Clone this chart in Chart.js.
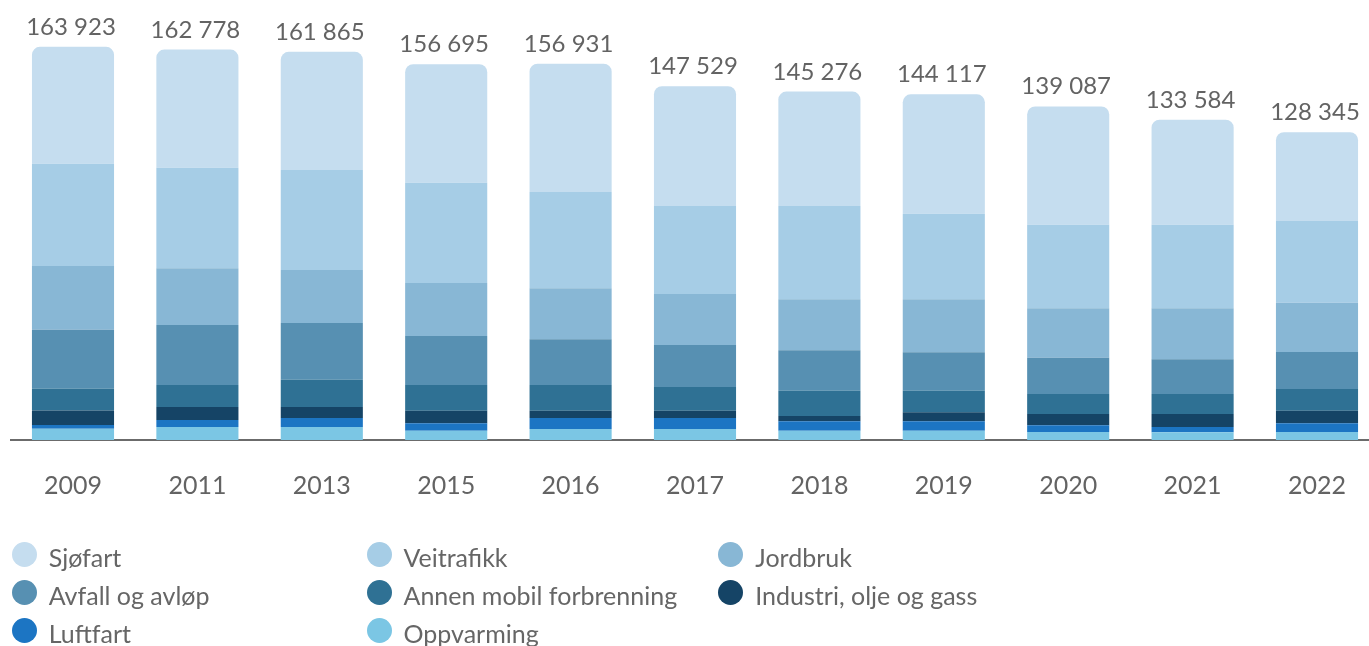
<!DOCTYPE html>
<html>
<head>
<meta charset="utf-8">
<script src="https://cdn.jsdelivr.net/npm/chart.js@4"></script>
<style>
html,body{margin:0;padding:0;overflow:hidden;background:#fff;width:1369px;height:646px;}
#wrap{position:absolute;left:0;top:0;width:1382px;height:530px;}
#legend{position:absolute;left:0;top:0;width:1369px;height:646px;pointer-events:none;font-family:Lato, sans-serif;}
.item{position:absolute;height:25px;}
.dot{position:absolute;left:0;top:0;width:25px;height:25px;border-radius:50%;}
.lbl{position:absolute;left:37px;top:3px;font-size:25px;line-height:25px;color:#666;white-space:nowrap;}
</style>
</head>
<body>
<div id="wrap"><canvas id="c"></canvas></div>
<div id="legend"></div>
<script>
const years = ['2009','2011','2013','2015','2016','2017','2018','2019','2020','2021','2022'];
const totals = [163923, 162778, 161865, 156695, 156931, 147529, 145276, 144117, 139087, 133584, 128345];

const oppvarming = [4720, 5420, 5420, 3880, 4590, 4590, 3880, 3880, 3340, 3210, 3340];
const luftfart   = [1550, 2920, 3750, 3090, 4590, 4590, 3920, 3920, 2790, 2210, 3630];
const industri   = [5980, 5420, 4590, 5250, 3040, 3040, 2210, 3750, 4710, 5420, 5250];
const annenMobil = [9070, 9170, 11380, 10720, 10720, 9880, 10550, 9010, 8340, 8340, 9050];
const avfall     = [24660, 25020, 23640, 20430, 19060, 17510, 16850, 16010, 15140, 14470, 15430];
const jordbruk   = [26620, 23640, 22100, 22100, 21270, 21270, 21270, 22100, 20600, 21270, 20560];
const veitrafikk = [42620, 41950, 41700, 41830, 40160, 36700, 38910, 35700, 34860, 34860, 34070];
const sjofart    = [48700, 49240, 49290, 49400, 53500, 49950, 47690, 49750, 49310, 43800, 37020];

const seriesNames = ['Oppvarming','Luftfart','Industri, olje og gass','Annen mobil forbrenning','Avfall og avløp','Jordbruk','Veitrafikk','Sjøfart'];
const seriesData = [oppvarming, luftfart, industri, annenMobil, avfall, jordbruk, veitrafikk, sjofart];
const seriesColors = ['#7bc6e4','#1c75c3','#154466','#2f7194','#5790b2','#88b7d5','#a6cde6','#c5ddef'];
const legendOrder = ['Sjøfart','Veitrafikk','Jordbruk','Avfall og avløp','Annen mobil forbrenning','Industri, olje og gass','Luftfart','Oppvarming'];

function fmt(n){ return String(n).replace(/\B(?=(\d{3})+(?!\d))/g, ' '); }

const totalsPlugin = {
  id: 'totals',
  afterDatasetsDraw(chart){
    const ctx = chart.ctx;
    const meta = chart.getDatasetMeta(chart.data.datasets.length - 1);
    ctx.save();
    ctx.font = '24px Lato';
    ctx.fillStyle = '#636363';
    ctx.textAlign = 'center';
    ctx.textBaseline = 'alphabetic';
    meta.data.forEach((bar, i) => {
      ctx.fillText(fmt(totals[i]), bar.x - 2, bar.y - 12);
    });
    ctx.restore();
  }
};

new Chart(document.getElementById('c'), {
  type: 'bar',
  data: {
    labels: years,
    datasets: seriesNames.map((name, i) => ({
      label: name,
      data: seriesData[i],
      backgroundColor: seriesColors[i],
      borderWidth: 0,
      borderRadius: 8,
      categoryPercentage: 1,
      barPercentage: 0.66
    }))
  },
  options: {
    responsive: true,
    maintainAspectRatio: false,
    animation: false,
    layout: { padding: { left: 10.8, right: 2.8, top: 20.3, bottom: 0 } },
    plugins: { legend: { display: false }, tooltip: { enabled: false } },
    scales: {
      x: {
        stacked: true,
        grid: { display: false, drawTicks: false },
        border: { display: true, color: '#6b6b6b', width: 2 },
        ticks: { font: { family: 'Lato', size: 25 }, color: '#636363', padding: 31 },
        afterFit(s){ s.height = 90; }
      },
      y: { stacked: true, display: false, min: 0, max: 175000 }
    }
  },
  plugins: [totalsPlugin]
});

const legend = document.getElementById('legend');
const cols = [11.7, 366.5, 718.3];
const rows = [541.7, 580, 618.3];
legendOrder.forEach((name, k) => {
  const idx = seriesNames.indexOf(name);
  const item = document.createElement('div');
  item.className = 'item';
  item.style.left = cols[k % 3] + 'px';
  item.style.top = rows[Math.floor(k / 3)] + 'px';
  const dot = document.createElement('span');
  dot.className = 'dot';
  dot.style.background = seriesColors[idx];
  const lbl = document.createElement('span');
  lbl.className = 'lbl';
  lbl.textContent = name;
  item.appendChild(dot);
  item.appendChild(lbl);
  legend.appendChild(item);
});
</script>
</body>
</html>
